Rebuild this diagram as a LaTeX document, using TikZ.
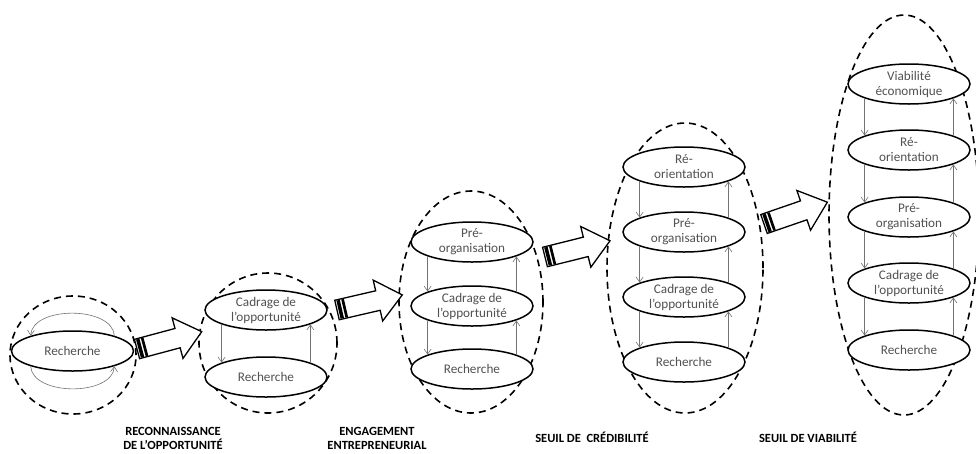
\documentclass[tikz,border=0pt]{standalone}
\usepackage{fontspec}
\setmainfont{Carlito}
\usetikzlibrary{shapes.geometric,arrows.meta}
\begin{document}
\begin{tikzpicture}[x=1pt,y=-1pt,
  stage/.style={ellipse, draw, fill=white, line width=1.5pt, minimum width=122pt, minimum height=40pt,
    inner sep=0pt, align=center, text=black!68, font=\fontsize{13.2}{15}\selectfont},
  zone/.style={ellipse, draw, line width=1.6pt, dash pattern=on 7pt off 5pt, inner sep=0pt},
  link/.style={draw=black!55, line width=0.6pt, -{Straight Barb[length=5pt,width=7pt]}},
  lbl/.style={font=\bfseries\fontsize{12.5}{14}\selectfont, align=center},
  blockarrow/.pic={
    \draw[line width=1.3pt, fill=white, line join=miter]
      (0,-10) -- (42,-10) -- (42,-21) -- (67,0) -- (42,21) -- (42,10) -- (0,10) -- cycle;
    \fill (1.5,-9.3) rectangle (5,9.3);
    \fill (6.5,-9.3) rectangle (9.2,9.3);
  }
]
\useasboundingbox (0,0) rectangle (976,453);

% dashed zones
\node[zone, minimum width=126pt, minimum height=118pt] (z1) at (73,355) {};
\node[zone, minimum width=138pt, minimum height=140pt] (z2) at (268,343) {};
\node[zone, minimum width=144pt, minimum height=222pt] (z3) at (471,302) {};
\node[zone, minimum width=156pt, minimum height=290pt] (z4) at (685,268) {};
\node[zone, minimum width=150pt, minimum height=400pt] (z5) at (904,215) {};

% block arrows
\pic[rotate=15] at (137,349) {blockarrow};
\pic[rotate=13] at (337,310) {blockarrow};
\pic[rotate=14] at (545,257) {blockarrow};
\pic[rotate=19] at (764,224) {blockarrow};

% group 1
\node[stage] (r1) at (72.5,351) {Recherche};
\draw[link] (r1.20) .. controls +(-2,-30) and +(2,-30) .. (r1.160);
\draw[link] (r1.200) .. controls +(2,30) and +(-2,30) .. (r1.340);

% group 2
\node[stage] (c2) at (266,310) {Cadrage de\\l’opportunité};
\node[stage] (r2) at (266,377) {Recherche};
\draw[link] (c2.198) -- (r2.162);
\draw[link] (r2.18) -- (c2.342);

% group 3
\node[stage] (p3) at (472,242) {Pré-\\organisation};
\node[stage] (c3) at (472,306) {Cadrage de\\l’opportunité};
\node[stage] (r3) at (472,369) {Recherche};
\draw[link] (p3.198) -- (c3.162);
\draw[link] (c3.198) -- (r3.162);
\draw[link] (r3.18) -- (c3.342);
\draw[link] (c3.18) -- (p3.342);

% group 4
\node[stage] (o4) at (684,167) {Ré-\\orientation};
\node[stage] (p4) at (684,232) {Pré-\\organisation};
\node[stage] (c4) at (684,297) {Cadrage de\\l’opportunité};
\node[stage] (r4) at (684,362) {Recherche};
\draw[link] (o4.198) -- (p4.162);
\draw[link] (p4.198) -- (c4.162);
\draw[link] (c4.198) -- (r4.162);
\draw[link] (r4.18) -- (c4.342);
\draw[link] (c4.18) -- (p4.342);
\draw[link] (p4.18) -- (o4.342);

% group 5
\node[stage] (v5) at (909,84) {Viabilité\\économique};
\node[stage] (o5) at (909,150) {Ré-\\orientation};
\node[stage] (p5) at (909,217) {Pré-\\organisation};
\node[stage] (c5) at (909,283) {Cadrage de\\l’opportunité};
\node[stage] (r5) at (909,350) {Recherche};
\draw[link] (v5.198) -- (o5.162);
\draw[link] (o5.198) -- (p5.162);
\draw[link] (p5.198) -- (c5.162);
\draw[link] (c5.198) -- (r5.162);
\draw[link] (r5.18) -- (c5.342);
\draw[link] (c5.18) -- (p5.342);
\draw[link] (p5.18) -- (o5.342);
\draw[link] (o5.18) -- (v5.342);

% labels
\node[lbl] (l1) at (173,438) {RECONNAISSANCE\\DE L’OPPORTUNITÉ};
\node[lbl] (l2) at (377,438) {ENGAGEMENT\\ENTREPRENEURIAL};
\node[lbl] (l3) at (592,437) {SEUIL DE~ CRÉDIBILITÉ};
\node[lbl] (l4) at (808,437) {SEUIL DE VIABILITÉ};
\end{tikzpicture}
\end{document}
